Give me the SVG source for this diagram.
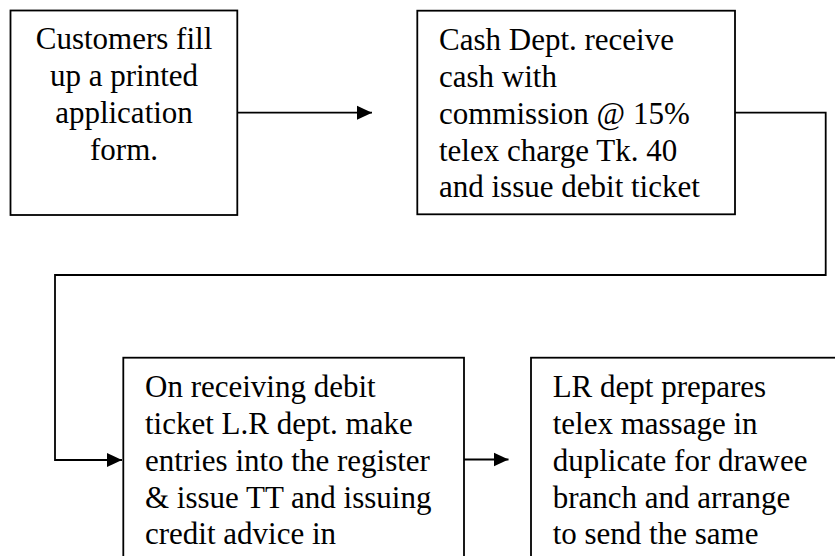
<svg xmlns="http://www.w3.org/2000/svg" width="835" height="556" viewBox="0 0 835 556">
  <style>
    .box { fill: #ffffff; stroke: #000000; stroke-width: 1.8; }
    .wire { fill: none; stroke: #000000; stroke-width: 1.8; }
    .label { font-family: "Liberation Serif", "Times New Roman", serif; font-size: 31px; fill: #000000; }
    .center { text-anchor: middle; }
  </style>
  <defs>
    <marker id="arrow" markerUnits="userSpaceOnUse" markerWidth="16" markerHeight="15" refX="15" refY="7.5" orient="auto">
      <path d="M0,0.5 L15,7.5 L0,14.5 Z" fill="#000000"/>
    </marker>
  </defs>
  <rect width="835" height="556" fill="#ffffff"/>

  <g id="connectors">
    <line class="wire" x1="237" y1="112.7" x2="372" y2="112.7" marker-end="url(#arrow)"/>
    <polyline class="wire" points="735,112.7 825.7,112.7 825.7,275 55,275 55,460 122,460" marker-end="url(#arrow)"/>
    <line class="wire" x1="464" y1="459.5" x2="508.5" y2="459.5" marker-end="url(#arrow)"/>
  </g>

  <g id="node-application">
    <rect class="box" x="10.5" y="10.5" width="226.8" height="204.5"/>
    <text class="label center" x="124" y="49">Customers fill</text>
    <text class="label center" x="124" y="86">up a printed</text>
    <text class="label center" x="124" y="123">application</text>
    <text class="label center" x="124" y="160">form.</text>
  </g>

  <g id="node-cash">
    <rect class="box" x="417.3" y="10.7" width="317.7" height="203.6"/>
    <text class="label" x="439" y="50">Cash Dept. receive</text>
    <text class="label" x="439" y="87">cash with</text>
    <text class="label" x="439" y="124">commission @ 15%</text>
    <text class="label" x="439" y="161">telex charge Tk. 40</text>
    <text class="label" x="439" y="197">and issue debit ticket</text>
  </g>

  <g id="node-register">
    <rect class="box" x="123.3" y="357.7" width="340.7" height="220"/>
    <text class="label" x="145" y="397">On receiving debit</text>
    <text class="label" x="145" y="434">ticket L.R dept. make</text>
    <text class="label" x="145" y="471">entries into the register</text>
    <text class="label" x="145" y="507.5">&amp; issue TT and issuing</text>
    <text class="label" x="145" y="544">credit advice in</text>
  </g>

  <g id="node-telex">
    <rect class="box" x="531" y="357.7" width="330" height="220"/>
    <text class="label" x="552.7" y="397">LR dept prepares</text>
    <text class="label" x="552.7" y="434">telex massage in</text>
    <text class="label" x="552.7" y="471">duplicate for drawee</text>
    <text class="label" x="552.7" y="507.5">branch and arrange</text>
    <text class="label" x="552.7" y="544">to send the same</text>
  </g>
</svg>
